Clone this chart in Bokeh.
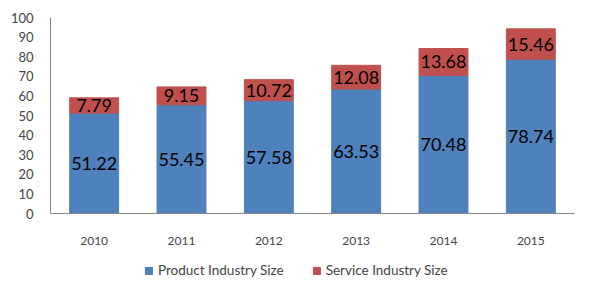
from bokeh.plotting import figure
from bokeh.layouts import column
from bokeh.models import ColumnDataSource, Legend, LegendItem, FixedTicker, LabelSet, Range1d
from bokeh.core.properties import value
from bokeh.embed import file_html
from bokeh.resources import INLINE

years = ["2010", "2011", "2012", "2013", "2014", "2015"]
product_size = [51.22, 55.45, 57.58, 63.53, 70.48, 78.74]
service_size = [7.79, 9.15, 10.72, 12.08, 13.68, 15.46]
y_ticks = [0, 10, 20, 30, 40, 50, 60, 70, 80, 90, 100]
series_names = ["Product Industry Size", "Service Industry Size"]

BLUE = "#4F81BD"
RED = "#C0504D"
FONT = "Lato"

totals = [a + b for a, b in zip(product_size, service_size)]
src = ColumnDataSource(dict(
    year=years,
    product=product_size,
    service=service_size,
    total=totals,
    p_mid=[a / 2 for a in product_size],
    s_mid=[a + b / 2 for a, b in zip(product_size, service_size)],
    p_lbl=[f"{v:.2f}" for v in product_size],
    s_lbl=[f"{v:.2f}" for v in service_size],
))

# main stacked bar chart
p = figure(width=590, height=250, x_range=years, y_range=(0, 100),
           output_backend="svg", toolbar_location=None,
           min_border_left=50, min_border_right=16,
           min_border_top=17, min_border_bottom=37)
p.outline_line_color = None
p.grid.grid_line_color = None

p.vbar(x="year", bottom=0, top="product", width=0.56, color=BLUE, source=src)
p.vbar(x="year", bottom="product", top="total", width=0.56, color=RED, source=src)

for col, lbl in (("p_mid", "p_lbl"), ("s_mid", "s_lbl")):
    p.add_layout(LabelSet(x="year", y=col, text=lbl, source=src,
                          text_align="center", text_baseline="middle",
                          text_font=value(FONT), text_font_size="18px",
                          text_color="black"))

p.yaxis.ticker = FixedTicker(ticks=y_ticks)
p.yaxis.axis_line_color = "#868686"
p.yaxis.major_tick_line_color = None
p.yaxis.minor_tick_line_color = None
p.yaxis.major_label_text_font = FONT
p.yaxis.major_label_text_font_size = "13px"
p.yaxis.major_label_standoff = 11

p.xaxis.axis_line_color = "#868686"
p.xaxis.major_tick_line_color = None
p.xaxis.major_label_text_font = FONT
p.xaxis.major_label_text_font_size = "12px"
p.xaxis.major_label_standoff = 17

# legend strip underneath; swatch bars sit outside the visible range
leg = figure(width=590, height=46, x_range=Range1d(0, 1), y_range=Range1d(0, 1),
             output_backend="svg", toolbar_location=None,
             min_border_left=0, min_border_right=0, min_border_top=0, min_border_bottom=0)
leg.axis.visible = False
leg.grid.grid_line_color = None
leg.outline_line_color = None
sw_prod = leg.vbar(x=[-5], bottom=[-5], top=[-4], width=0.1, color=BLUE)
sw_serv = leg.vbar(x=[-5], bottom=[-5], top=[-4], width=0.1, color=RED)
legend = Legend(items=[LegendItem(label=series_names[0], renderers=[sw_prod]),
                       LegendItem(label=series_names[1], renderers=[sw_serv])],
                orientation="horizontal", location=(94, 18),
                label_text_font=FONT, label_text_font_size="13.5px",
                glyph_width=9, glyph_height=9, spacing=28, padding=0,
                label_standoff=5, margin=0,
                border_line_color=None, background_fill_alpha=0)
leg.add_layout(legend, "center")

layout = column(p, leg, spacing=0)
open("out.html", "w").write(file_html(layout, INLINE))
